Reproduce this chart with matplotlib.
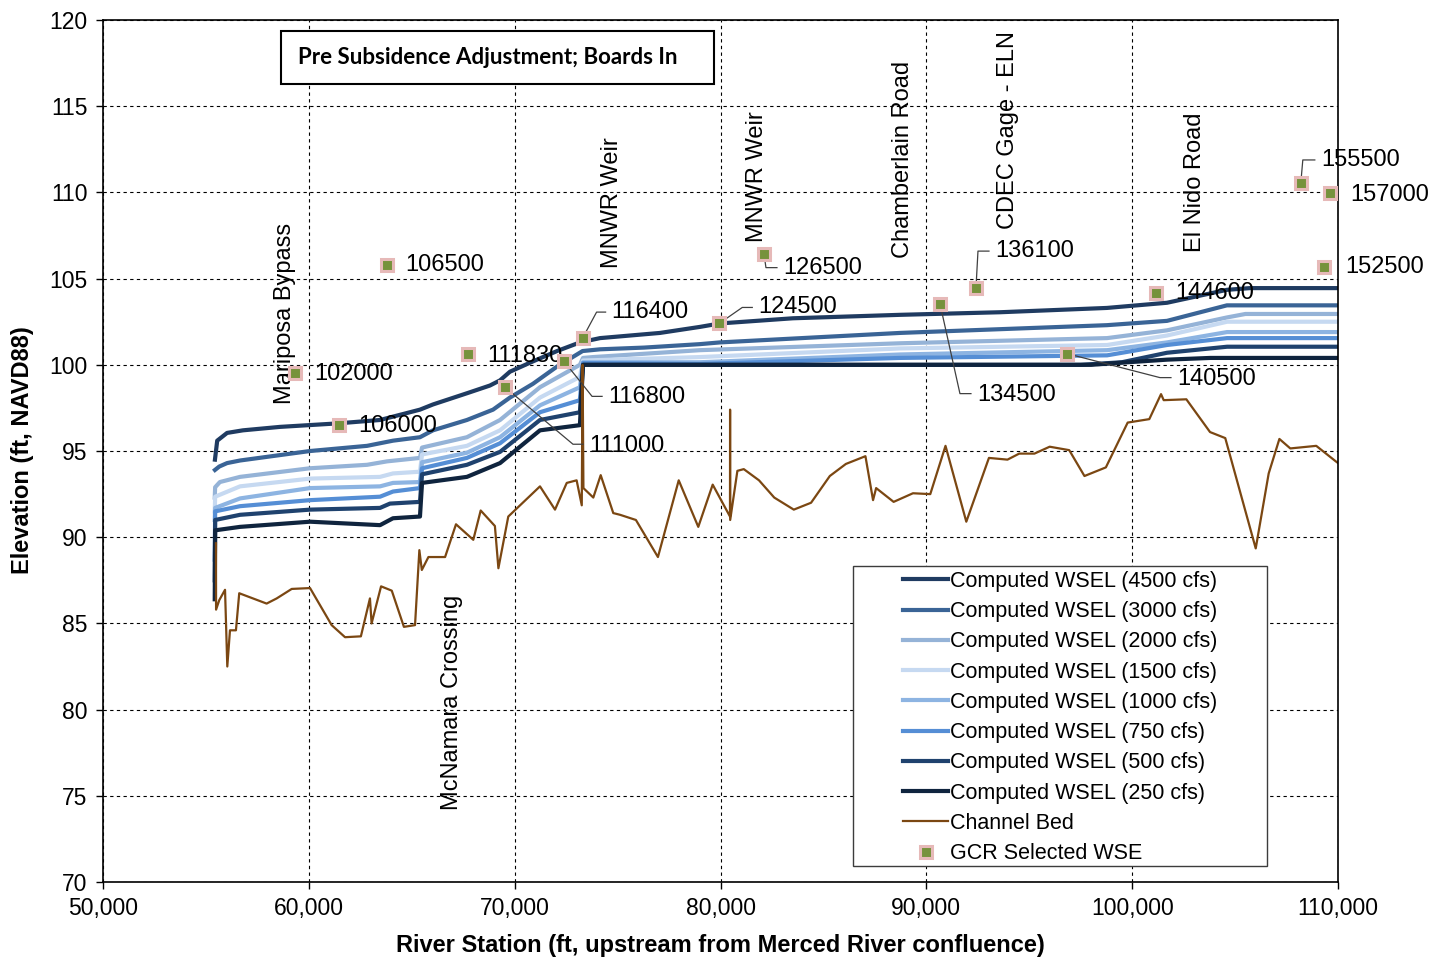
import numpy as np
import matplotlib
matplotlib.use("Agg")
import matplotlib.pyplot as plt
from matplotlib.patches import Rectangle
from matplotlib.ticker import FuncFormatter, MultipleLocator

plt.rcParams['font.family'] = ['Liberation Sans', 'DejaVu Sans']

# computed water surface profiles (river station ft, elevation ft NAVD88)
st_4500 = [55440, 55550, 56030, 56800, 58600, 61370, 63460, 65400, 66030, 67680, 68800, 69290, 69770,
           70890, 72060, 73170, 74150, 77060, 79000, 79970, 83520, 88720, 93580, 98770, 101690, 104600,
           105720, 110000]
wsel_4500 = [94.5, 95.6, 96.05, 96.2, 96.4, 96.6, 96.8, 97.4, 97.7, 98.35, 98.8, 99.1, 99.6,
             100.2, 100.8, 101.3, 101.55, 101.85, 102.2, 102.4, 102.7, 102.9, 103.05, 103.3, 103.6, 104.35,
             104.45, 104.45]

st_3000 = [55440, 55650, 56030, 56660, 60060, 62830, 64090, 65400, 66030, 67680, 68950, 69770, 70890,
           72060, 73300, 74150, 76290, 79000, 79970, 88720, 98770, 101690, 104600, 110000]
wsel_3000 = [93.9, 94.1, 94.3, 94.45, 95.0, 95.3, 95.6, 95.8, 96.2, 96.8, 97.4, 98.1, 98.9,
             99.9, 100.8, 100.9, 101.0, 101.2, 101.3, 101.85, 102.3, 102.55, 103.45, 103.45]

st_2000 = [55430, 55450, 55680, 56660, 60060, 62830, 63800, 65400, 65500, 67680, 69290, 71230, 73170,
           73320, 73810, 79000, 88720, 98780, 101690, 104610, 105500, 110000]
wsel_2000 = [92.3, 92.9, 93.2, 93.5, 94.0, 94.2, 94.4, 94.6, 95.2, 95.8, 96.8, 98.7, 100.0,
             100.4, 100.45, 100.85, 101.25, 101.55, 102.0, 102.75, 102.95, 102.95]

st_1500 = [55430, 55450, 56660, 60060, 63460, 64090, 65400, 65500, 67680, 69290, 71230, 73170, 73320,
           79000, 88720, 98780, 101690, 104610, 105500, 110000]
wsel_1500 = [91.5, 92.35, 92.95, 93.4, 93.5, 93.7, 93.8, 94.8, 95.3, 96.2, 98.1, 99.3, 100.25,
             100.45, 100.95, 101.15, 101.7, 102.5, 102.5, 102.5]

st_1000 = [55430, 55450, 56660, 60060, 63460, 64090, 65400, 65500, 67680, 69290, 71230, 73170, 73320,
           79000, 88720, 98780, 101690, 104610, 110000]
wsel_1000 = [91.0, 91.7, 92.25, 92.85, 92.95, 93.15, 93.2, 94.35, 94.9, 95.8, 97.65, 98.7, 100.15,
             100.15, 100.6, 100.85, 101.3, 101.9, 101.9]

st_750 = [55430, 55450, 56660, 60060, 63460, 64090, 65400, 65500, 67680, 69290, 71230, 73170, 73320,
          79000, 88720, 98780, 101690, 104610, 110000]
wsel_750 = [88.7, 91.5, 91.8, 92.15, 92.35, 92.65, 92.85, 94.0, 94.6, 95.45, 97.25, 97.95, 100.1,
            100.05, 100.4, 100.55, 101.15, 101.55, 101.55]

st_500 = [55430, 55450, 56660, 60060, 63460, 63940, 65400, 65500, 67680, 69290, 71230, 73170, 73320,
          97500, 99500, 101690, 104610, 110000]
wsel_500 = [87.5, 91.0, 91.3, 91.6, 91.7, 91.95, 92.05, 93.65, 94.2, 94.95, 96.8, 97.25, 100.0,
            100.0, 100.15, 100.7, 101.05, 101.05]

st_250 = [55430, 55450, 56660, 60060, 63460, 64090, 65400, 65500, 67680, 69290, 71230, 73170, 73320,
          98000, 99800, 101690, 103800, 110000]
wsel_250 = [86.4, 90.4, 90.6, 90.9, 90.7, 91.1, 91.2, 93.15, 93.5, 94.3, 96.2, 96.5, 100.0,
            100.0, 100.15, 100.3, 100.4, 100.4]

# channel bed
bed_st = [55490, 55495, 55650, 55930, 56040, 56170, 56460, 56620, 57950, 58440,
          59170, 60060, 61110, 61760, 62530, 62970, 63050, 63510, 64030, 64620,
          65160, 65370, 65490, 65810, 66620, 67150, 67990, 68350, 69040, 69210,
          69690, 71230, 71960, 72530, 73010, 73260, 73300, 73340, 73820, 74180,
          74790, 75120, 75890, 76960, 77970, 78920, 79620, 80460, 80465, 80470,
          80820, 81130, 81870, 82610, 83560, 84400, 85310, 86090, 87040, 87410,
          87560, 88410, 89350, 90190, 90930, 91940, 93040, 93940, 94510, 95250,
          95990, 96940, 97680, 98720, 99780, 100830, 101400, 101530, 102630, 103780,
          104520, 106000, 106630, 107150, 107680, 108940, 109890, 110000]
bed_el = [89.65, 85.8, 86.35, 86.95, 82.5, 84.6, 84.6, 86.75, 86.15, 86.45,
          87.0, 87.05, 84.9, 84.2, 84.25, 86.45, 85.0, 87.15, 86.9, 84.8,
          84.9, 89.25, 88.1, 88.85, 88.85, 90.75, 89.85, 91.55, 90.65, 88.2,
          91.2, 92.95, 91.6, 93.15, 93.3, 91.85, 100.0, 92.85, 92.3, 93.6,
          91.4, 91.3, 91.0, 88.85, 93.3, 90.6, 93.05, 91.2, 97.4, 91.0,
          93.85, 93.95, 93.3, 92.3, 91.6, 92.0, 93.55, 94.25, 94.7, 92.15,
          92.85, 92.05, 92.55, 92.5, 95.3, 90.9, 94.6, 94.5, 94.85, 94.85,
          95.25, 95.05, 93.55, 94.05, 96.65, 96.85, 98.3, 97.95, 98.0, 96.1,
          95.75, 89.35, 93.7, 95.7, 95.15, 95.3, 94.4, 94.3]

# GCR selected water surface elevations
gcr_st = [59330, 61470, 63800, 67730, 69530, 72400, 73300, 79940, 82110, 90660, 92410, 96830,
          101160, 108190, 109610, 109330]
gcr_wse = [99.55, 96.5, 105.8, 100.65, 98.7, 100.2, 101.55, 102.4, 106.45, 103.55, 104.45, 100.65,
           104.15, 110.55, 109.95, 105.65]
gcr_id = ['102000', '106000', '106500', '111830', '111000', '116800', '116400', '124500', '126500',
          '134500', '136100', '140500', '144600', '155500', '157000', '152500']

# site names along the reach
site_names = ['Mariposa Bypass', 'McNamara Crossing', 'MNWR Weir', 'MNWR Weir', 'Chamberlain Road',
              'CDEC Gage - ELN', 'El Nido Road']
site_st = [58840, 66950, 74730, 81770, 88870, 93970, 103050]
site_y = [97.7, 74.2, 105.6, 107.1, 106.2, 107.9, 106.55]

flows = ['4500', '3000', '2000', '1500', '1000', '750', '500', '250']
profiles = [(st_4500, wsel_4500), (st_3000, wsel_3000), (st_2000, wsel_2000), (st_1500, wsel_1500),
            (st_1000, wsel_1000), (st_750, wsel_750), (st_500, wsel_500), (st_250, wsel_250)]
colors = ['#1F3B61', '#3A6496', '#95B3D7', '#C6D9F1', '#8DB4E2', '#558ED5', '#1F426E', '#0F243E']

fig = plt.figure(figsize=(14.36, 9.59), dpi=100)
ax = fig.add_axes([0.0717, 0.0803, 0.8601, 0.8988])

for (s, w), q, c in zip(profiles, flows, colors):
    ax.plot(s, w, color=c, lw=3, label=f'Computed WSEL ({q} cfs)', solid_joinstyle='round')

ax.plot(bed_st, bed_el, color='#7B4712', lw=1.6, label='Channel Bed')
ax.plot(gcr_st, gcr_wse, ls='none', marker='s', ms=8, mfc='#76923C', mec='#E6B9B8', mew=2.2,
        label='GCR Selected WSE', zorder=5)

ax.set_xlim(50000, 110000)
ax.set_ylim(70, 120)
ax.xaxis.set_major_locator(MultipleLocator(10000))
ax.yaxis.set_major_locator(MultipleLocator(5))
ax.xaxis.set_major_formatter(FuncFormatter(lambda v, p: f'{int(v):,}'))
ax.tick_params(labelsize=16.5, direction='out', length=5, width=1, pad=6)
ax.grid(True, color='black', ls=(0, (3, 3)), lw=0.8)
for sp in ax.spines.values():
    sp.set_linewidth(1.2)

ax.set_xlabel('River Station (ft, upstream from Merced River confluence)', fontsize=17, fontweight='bold')
ax.set_ylabel('Elevation (ft, NAVD88)', fontsize=17, fontweight='bold')
ax.xaxis.set_label_coords(0.4996, -0.06)
ax.yaxis.set_label_coords(-0.056, 0.501)

# station labels, some with leader lines (offsets in pixels: text dx, dy, elbow dx, dy)
label_pos = {
    '102000': (19, 1, None, None), '106000': (19, 1, None, None), '106500': (18, 0, None, None),
    '111830': (19, 2, None, None), '111000': (84, 59, 68, 57), '116800': (44, 36, 28, 35),
    '116400': (29, -26, 14, -26), '124500': (39, -16, 23, -16), '126500': (19, 14, 2, 14),
    '134500': (37, 91, 20, 90), '136100': (19, -37, 2, -37), '140500': (110, 25, 93, 24),
    '144600': (19, 0, None, None), '155500': (20, -23, 2, -23), '157000': (20, 2, None, None),
    '152500': (21, 0, None, None),
}
for s, w, lab in zip(gcr_st, gcr_wse, gcr_id):
    tx, ty, ex, ey = label_pos[lab]
    ax.annotate(lab, (s, w), xytext=(tx, -ty), textcoords='offset pixels', fontsize=17,
                ha='left', va='center', annotation_clip=False)
    if ex is not None:
        x0, y0 = ax.transData.transform((s, w))
        pts = np.array([(x0, y0), (x0 + ex, y0 - ey), (x0 + tx - 6, y0 - ey)])
        d = ax.transData.inverted().transform(pts)
        ax.plot(d[:, 0], d[:, 1], color='#404040', lw=0.9, zorder=4)

for name, s, y in zip(site_names, site_st, site_y):
    ax.text(s, y, name, rotation=90, ha='center', va='bottom', fontsize=17)

# title box
ax.add_patch(Rectangle((0.1441, 0.9258), 0.3506, 0.0614, transform=ax.transAxes,
                       facecolor='white', edgecolor='black', lw=1.5, zorder=6))
ax.text(0.1579, 0.957, 'Pre Subsidence Adjustment; Boards In', transform=ax.transAxes,
        fontsize=16, fontweight='bold', family=['Lato', 'DejaVu Sans'], va='center', ha='left', zorder=7)

# legend with separate frame
ax.add_patch(Rectangle((0.6073, 0.0186), 0.3352, 0.348, transform=ax.transAxes,
                       facecolor='white', edgecolor='#3C3C3C', lw=1.0, zorder=6))
leg = ax.legend(loc='upper left', bbox_to_anchor=(0.6478, 0.361), frameon=False, fontsize=15.5,
                handlelength=2.1, handletextpad=0.1, labelspacing=0.43, borderpad=0, borderaxespad=0,
                numpoints=1)
leg.set_zorder(7)

fig.savefig('out.png', dpi=100)
